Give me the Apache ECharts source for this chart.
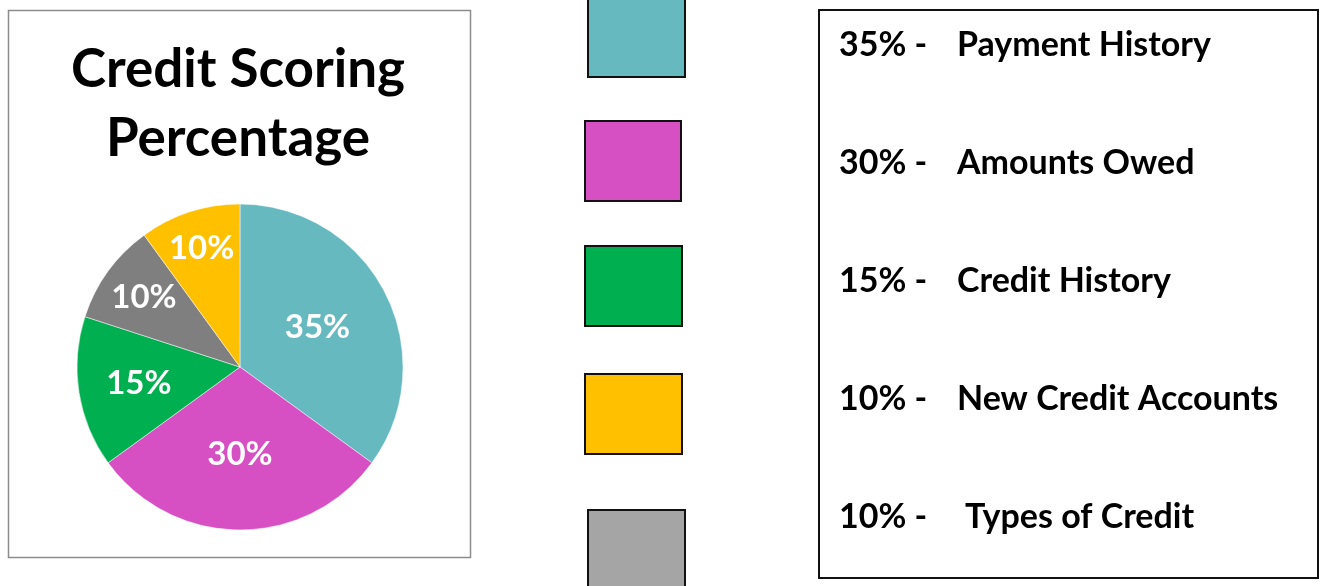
<!DOCTYPE html>
<html>
<head>
<meta charset="utf-8">
<title>Credit Scoring Percentage</title>
<script src="https://cdn.jsdelivr.net/npm/echarts@6/dist/echarts.min.js"></script>
<style>
  html, body { margin: 0; padding: 0; background: #fff; }
  #main { width: 1323px; height: 586px; }
</style>
</head>
<body>
<div id="main"></div>
<script>
// data, in pie order (clockwise from 12 o'clock)
var names = ['Payment History', 'Amounts Owed', 'Credit History', 'Types of Credit', 'New Credit Accounts'];
var shares = [35, 30, 15, 10, 10];
var colors = ['#67b9c0', '#d64fc3', '#00b050', '#7f7f7f', '#ffc000'];

// order of the key (squares + text box), as indexes into the arrays above
var keyOrder = [0, 1, 2, 4, 3];
var keyColors = ['#67b9c0', '#d64fc3', '#00b050', '#ffc000', '#a5a5a5'];

// layout bits
var FONT = 'Lato, "Open Sans", sans-serif';
var pieC = [240, 367], pieR = 163;
var labelFrac = [0.515, 0.52, 0.61, 0.71, 0.745];   // label distance / radius, like excel best fit
var squareBoxes = [[588, -3, 97, 80], [585, 121, 96, 80], [585, 246, 97, 80], [585, 374, 97, 80], [588, 510, 97, 80]];
var rowY = [45, 163, 281, 399, 517];
var nameIndent = [0, 0, 0, 0, 8];

var myChart = echarts.init(document.getElementById('main'), null, { renderer: 'canvas' });

var pieData = names.map(function (n, i) {
    return { name: n, value: shares[i], itemStyle: { color: colors[i] } };
});

// mid angle of each slice (deg, clockwise from top)
var total = shares.reduce(function (a, b) { return a + b; }, 0);
var midAngle = [], cum = 0;
shares.forEach(function (s) {
    midAngle.push((cum + s / 2) / total * 360);
    cum += s;
});

var graphics = [
    // left chart frame
    { type: 'rect', shape: { x: 8.5, y: 10.5, width: 462, height: 547 },
      style: { fill: 'none', stroke: '#8c8c8c', lineWidth: 1.5 }, z: 1 },
    // right text frame
    { type: 'rect', shape: { x: 819, y: 10, width: 499, height: 568 },
      style: { fill: 'none', stroke: '#111', lineWidth: 2 }, z: 1 }
];

keyOrder.forEach(function (idx, k) {
    var b = squareBoxes[k];
    graphics.push({
        type: 'rect', shape: { x: b[0], y: b[1], width: b[2], height: b[3] },
        style: { fill: keyColors[k], stroke: '#111', lineWidth: 2 }, z: 2
    });
    graphics.push({
        type: 'text', x: 839, y: rowY[k],
        style: { text: shares[idx] + '% -', font: 'bold 34px ' + FONT, fill: '#000',
                 textVerticalAlign: 'middle' }, z: 2
    });
    graphics.push({
        type: 'text', x: 957 + nameIndent[k], y: rowY[k],
        style: { text: names[idx], font: 'bold 34px ' + FONT, fill: '#000',
                 textVerticalAlign: 'middle' }, z: 2
    });
});

var option = {
    backgroundColor: '#fff',
    animation: false,
    title: {
        text: 'Credit Scoring\nPercentage',
        left: 233,
        top: 30,
        textAlign: 'center',
        textStyle: {
            fontFamily: FONT,
            fontWeight: 'bold',
            fontSize: 53,
            lineHeight: 69,
            color: '#000'
        }
    },
    series: [
        {
            type: 'pie',
            center: pieC,
            radius: pieR,
            startAngle: 90,
            clockwise: true,
            avoidLabelOverlap: false,
            itemStyle: { borderColor: '#fff', borderWidth: 0.5 },
            label: {
                show: true,
                position: 'inside',
                formatter: '{c}%',
                color: '#fff',
                fontFamily: FONT,
                fontWeight: 'bold',
                fontSize: 33
            },
            labelLine: { show: false },
            emphasis: { disabled: true },
            labelLayout: function (p) {
                var i = p.dataIndex;
                var a = midAngle[i] * Math.PI / 180;
                var d = (labelFrac[i] - 0.5) * pieR;
                return { dx: d * Math.sin(a), dy: -d * Math.cos(a) };
            },
            data: pieData
        }
    ],
    graphic: graphics
};

myChart.setOption(option);
</script>
</body>
</html>
